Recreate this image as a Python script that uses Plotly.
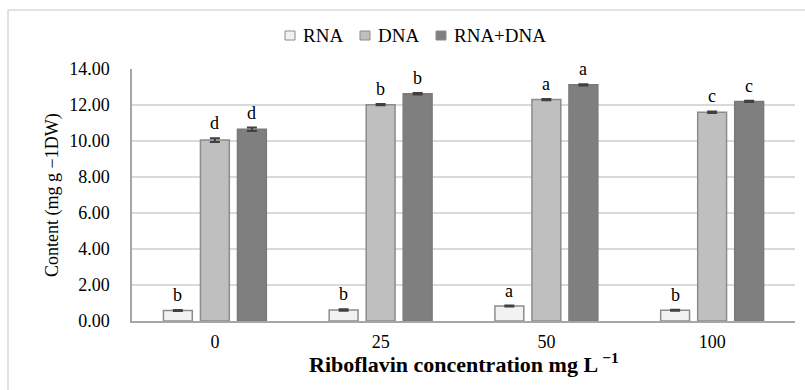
import plotly.graph_objects as go

categories = ["0", "25", "50", "100"]
series_names = ["RNA", "DNA", "RNA+DNA"]
rna = [0.58, 0.61, 0.83, 0.60]
dna = [10.05, 12.02, 12.30, 11.60]
total = [10.65, 12.63, 13.12, 12.20]
rna_err = [0.03, 0.04, 0.03, 0.03]
dna_err = [0.10, 0.04, 0.03, 0.04]
total_err = [0.10, 0.04, 0.03, 0.03]
rna_letters = ["b", "b", "a", "b"]
dna_letters = ["d", "b", "a", "c"]
total_letters = ["d", "b", "a", "c"]
x_title = "<b>Riboflavin concentration mg L <sup>−1</sup></b>"
y_title = "Content (mg g −1DW)"

values = [rna, dna, total]
errors = [rna_err, dna_err, total_err]
letters = [rna_letters, dna_letters, total_letters]
fills = ["#f2f2f2", "#bfbfbf", "#7f7f7f"]
lines = ["#8c8c8c", "#8c8c8c", "#7a7a7a"]

FONT = "Liberation Serif"
bargap = 0.33
xs = list(range(len(categories)))

W, H = 805, 390
L, R, T, B = 132, 10, 69, 69
pw, ph = W - L - R, H - T - B
def px(x):
    return (x - L) / pw
def py(y):
    return (H - B - y) / ph

fig = go.Figure()
for k in range(3):
    fig.add_trace(go.Bar(
        x=xs, y=values[k], name=series_names[k], showlegend=False,
        marker=dict(color=fills[k], line=dict(color=lines[k], width=1.5)),
        error_y=dict(type="data", array=errors[k], color="#404040", thickness=2, width=5),
    ))

slot = (1 - bargap) / 3
for k in range(3):
    for i in xs:
        fig.add_annotation(
            x=i + (k - 1) * slot, y=values[k][i] + errors[k][i],
            text=letters[k][i], showarrow=False, yanchor="bottom", yshift=3,
            font=dict(family=FONT, size=18, color="#000"),
        )

# legend (drawn as key squares + text)
legend_text_x = [301, 376, 452]
legend_y = 35.5
for k in range(3):
    x0 = legend_text_x[k] - 16
    fig.add_shape(type="rect", xref="paper", yref="paper",
                  x0=px(x0), x1=px(x0 + 10), y0=py(legend_y + 4.5), y1=py(legend_y - 4.5),
                  line=dict(color="#8c8c8c", width=1), fillcolor=fills[k])
    fig.add_annotation(xref="paper", yref="paper", x=px(legend_text_x[k]), y=py(legend_y),
                       xanchor="left", yanchor="middle", text=series_names[k], showarrow=False,
                       font=dict(family=FONT, size=19, color="#000"))

# axis titles
fig.add_annotation(xref="paper", yref="paper", x=px(464), y=py(363), xanchor="center",
                   yanchor="middle", text=x_title, showarrow=False,
                   font=dict(family=FONT, size=22, color="#000"))
fig.add_annotation(xref="paper", yref="paper", x=px(52), y=py(195), xanchor="center",
                   yanchor="middle", text=y_title, showarrow=False, textangle=-90,
                   font=dict(family=FONT, size=18, color="#000"))

fig.add_shape(type="rect", xref="paper", yref="paper",
              x0=px(8), x1=px(830), y0=py(420), y1=py(10),
              line=dict(color="#d9d9d9", width=1.5), fillcolor="rgba(0,0,0,0)", layer="below")

fig.update_layout(
    width=W, height=H, margin=dict(l=L, r=R, t=T, b=B),
    paper_bgcolor="white", plot_bgcolor="white",
    barmode="group", bargap=bargap, bargroupgap=0.22,
    font=dict(family=FONT, size=18, color="#000"),
    showlegend=False,
    xaxis=dict(tickmode="array", tickvals=xs, ticktext=categories, range=[-0.5, 3.5],
               showline=True, linecolor="#a6a6a6", linewidth=1.5, showgrid=False,
               ticks="", ticklabelstandoff=4, tickfont=dict(family=FONT, size=18)),
    yaxis=dict(range=[0, 14], dtick=2, tickformat=".2f", showgrid=True,
               gridcolor="#d9d9d9", gridwidth=1.5, showline=True, linecolor="#a6a6a6",
               linewidth=1.5, zeroline=False, ticks="", ticklabelstandoff=17,
               tickfont=dict(family=FONT, size=18)),
)

fig.write_html("out.html")
